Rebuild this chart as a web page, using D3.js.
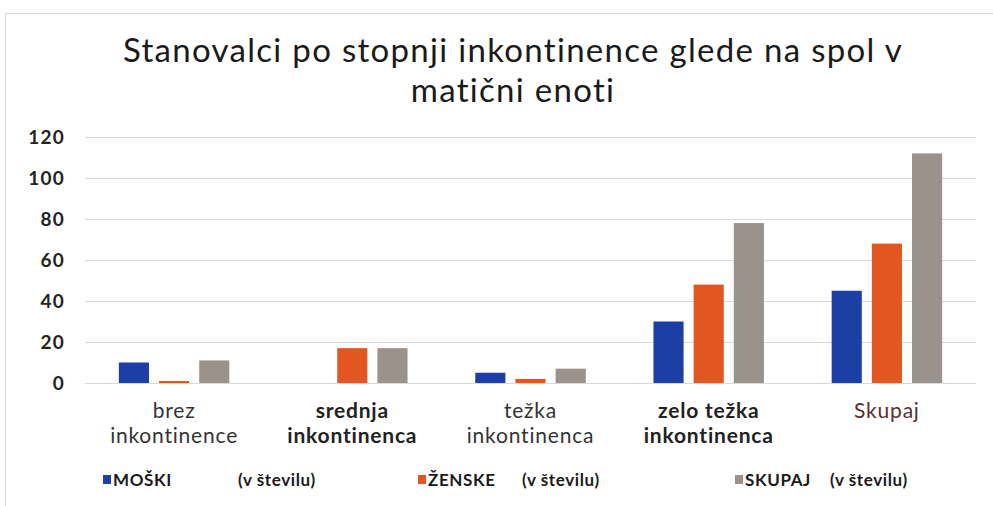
<!DOCTYPE html>
<html><head><meta charset="utf-8">
<script src="https://cdn.jsdelivr.net/npm/d3@7"></script>
<style>body{margin:0;background:#fff}svg{display:block}</style>
</head><body><svg id="c" width="993" height="506"></svg>
<script>
const categories = [["brez","inkontinence"],["srednja","inkontinenca"],["težka","inkontinenca"],["zelo težka","inkontinenca"],["Skupaj"]];
const seriesNames = ["MOŠKI","ŽENSKE","SKUPAJ"];
const moski = [10, 0, 5, 30, 45];
const zenske = [1, 17, 2, 48, 68];
const skupaj = [11, 17, 7, 78, 112];
const yTicks = [0, 20, 40, 60, 80, 100, 120];
const title = ["Stanovalci po stopnji inkontinence glede na spol v", "matični enoti"];
const unitLabel = "(v številu)";

const colors = ["#1c3fa6", "#e3561f", "#9b928b"];
const values = [moski, zenske, skupaj];
const svg = d3.select("#c");
const font = "Lato, 'Open Sans', sans-serif";

// frame
svg.append("rect").attr("x",5.5).attr("y",13.5).attr("width",1000).attr("height",520)
  .attr("fill","none").attr("stroke","#d8d8d8");

const L = 85, R = 976, T = 137, B = 383;
const x0 = d3.scaleBand().domain(d3.range(categories.length)).range([L,R]).paddingInner(0.38).paddingOuter(0.19);
const x1 = d3.scaleBand().domain(d3.range(3)).range([0,x0.bandwidth()]).paddingInner(0.25);
const y = d3.scaleLinear().domain([0,120]).range([B,T]);

// gridlines
svg.append("g").selectAll("line").data(yTicks).join("line")
  .attr("x1",L).attr("x2",R).attr("y1",d=>y(d)+0.5).attr("y2",d=>y(d)+0.5)
  .attr("stroke","#d9d9d9").attr("stroke-width",1.2);

// y axis labels
const yAxis = d3.axisLeft(y).tickValues(yTicks).tickSize(0).tickPadding(0);
const ga = svg.append("g").attr("transform",`translate(65,0)`).call(yAxis);
ga.select(".domain").remove();
ga.selectAll("text").attr("font-family",font).attr("font-size",19).attr("font-weight","bold")
  .attr("letter-spacing",1.2).attr("fill","#222");

// bars
const groups = svg.append("g").selectAll("g").data(categories).join("g")
  .attr("transform",(d,i)=>`translate(${x0(i)},0)`);
groups.selectAll("rect").data((d,i)=>values.map((v,s)=>({s,v:v[i]}))).join("rect")
  .attr("x",d=>x1(d.s)).attr("width",x1.bandwidth())
  .attr("y",d=>y(d.v)).attr("height",d=>B-y(d.v))
  .attr("fill",d=>colors[d.s]);

// category labels
const catStyle = [{w:"normal",c:"#333"},{w:"bold",c:"#222"},{w:"normal",c:"#333"},{w:"bold",c:"#222"},{w:"normal",c:"#5a2f2f"}];
categories.forEach((lines,i)=>{
  const cx = x0(i)+x0.bandwidth()/2;
  const t = svg.append("text").attr("x",cx).attr("y",418)
    .attr("text-anchor","middle").attr("font-family",font).attr("font-size",21)
    .attr("letter-spacing",0.8)
    .attr("font-weight",catStyle[i].w).attr("fill",catStyle[i].c);
  lines.forEach((ln,k)=>t.append("tspan").attr("x",cx).attr("dy",k?25:0).text(ln));
});

// title
const tt = svg.append("text").attr("x",513).attr("y",62).attr("text-anchor","middle")
  .attr("font-family",font).attr("font-size",33).attr("letter-spacing",1.3).attr("fill","#1a1a1a");
title.forEach((ln,k)=>tt.append("tspan").attr("x",513).attr("dy",k?40:0).text(ln));

// legend
const legX = [103, 418, 735];
const unitX = [238, 522, 830];
seriesNames.forEach((n,i)=>{
  svg.append("rect").attr("x",legX[i]).attr("y",475).attr("width",8).attr("height",9).attr("fill",colors[i]);
  svg.append("text").attr("x",legX[i]+10).attr("y",486).attr("font-family",font).attr("font-size",17)
    .attr("letter-spacing",0.6).attr("font-weight","bold").attr("fill","#1a1a1a").text(n);
  svg.append("text").attr("x",unitX[i]).attr("y",486).attr("font-family",font).attr("font-size",17)
    .attr("letter-spacing",0.6).attr("font-weight","bold").attr("fill","#1a1a1a").text(unitLabel);
});
</script></body></html>
